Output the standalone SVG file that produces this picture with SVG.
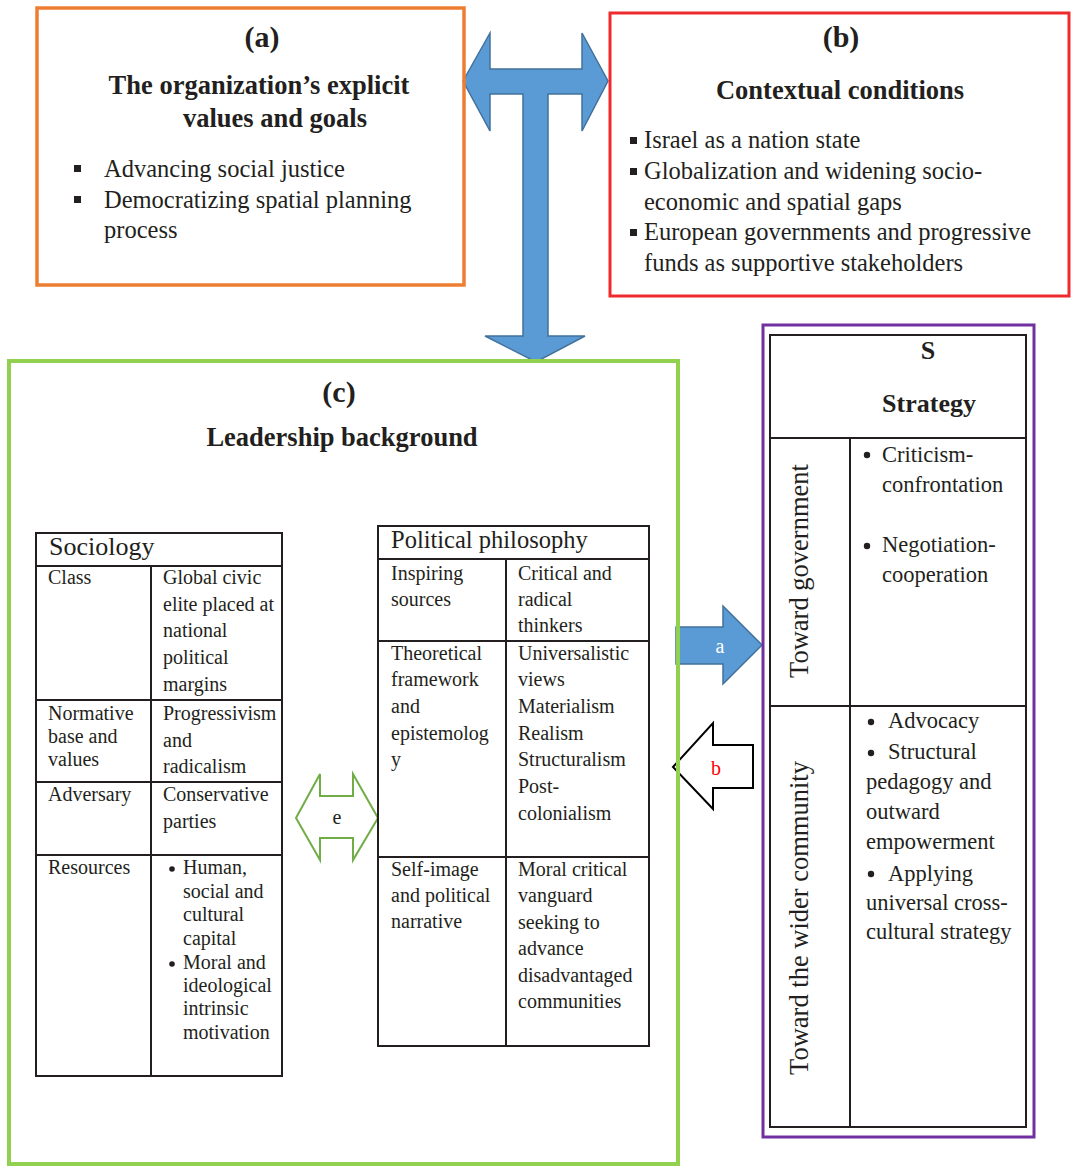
<svg xmlns="http://www.w3.org/2000/svg" width="1071" height="1168" viewBox="0 0 1071 1168">
<style>
text{font-family:"Liberation Serif","Times New Roman",serif;fill:#231f20}
.h{font-weight:bold;text-anchor:middle}
.t24{font-size:24.5px}
.t20{font-size:20px}
.t22{font-size:22.5px}
.grid{fill:none;stroke:#231f20;stroke-width:2}
.sq{fill:#231f20}
</style>
<rect width="1071" height="1168" fill="#ffffff"/>

<g id="connectors">
  <path d="M463,81 L490,33 L490,69 L582,69 L582,33 L608,81 L582,131 L582,94 L548,94 L548,336 L585,336 L536,362 L485,336 L523,336 L523,94 L490,94 L490,131 Z" fill="#5b9bd5" stroke="#41719c" stroke-width="1.5"/>
  <g id="arrow-a">
    <path d="M676,627 L723,627 L723,606 L762,645 L723,684 L723,664 L676,664 Z" fill="#5b9bd5" stroke="#41719c" stroke-width="1.5"/>
    <text x="720" y="653" font-size="20" text-anchor="middle" style="fill:#ffffff">a</text>
  </g>
  <g id="arrow-b">
    <path d="M673,767 L713,723 L713,745 L753,745 L753,788 L713,788 L713,809 Z" fill="#ffffff" stroke="#000000" stroke-width="2"/>
    <text x="716" y="775" font-size="20" text-anchor="middle" style="fill:#ff0000">b</text>
  </g>
  <g id="arrow-e">
    <path d="M296,818 L320,774 L320,796 L353,796 L353,774 L378,818 L353,860 L353,838 L320,838 L320,860 Z" fill="#ffffff" stroke="#70ad47" stroke-width="2"/>
    <text x="337" y="824" font-size="20" text-anchor="middle">e</text>
  </g>
</g>

<g id="node-a">
  <rect x="37" y="8" width="427" height="277" fill="none" stroke="#ed7d31" stroke-width="3.5"/>
  <text class="h" x="262" y="47" font-size="30">(a)</text>
  <text class="h" x="259" y="94" font-size="26.5">The organization’s explicit</text>
  <text class="h" x="275" y="127" font-size="26.5">values and goals</text>
  <rect class="sq" x="74" y="165" width="7" height="7"/>
  <rect class="sq" x="74" y="196" width="7" height="7"/>
  <text class="t24" x="104" y="177">Advancing social justice</text>
  <text class="t24" x="104" y="208">Democratizing spatial planning</text>
  <text class="t24" x="104" y="238">process</text>
</g>

<g id="node-b">
  <rect x="610" y="13" width="459" height="283" fill="none" stroke="#ee2a2e" stroke-width="3"/>
  <text class="h" x="841" y="47" font-size="30">(b)</text>
  <text class="h" x="840" y="99" font-size="26.5">Contextual conditions</text>
  <rect class="sq" x="630" y="137" width="7" height="7"/>
  <rect class="sq" x="630" y="168" width="7" height="7"/>
  <rect class="sq" x="630" y="229" width="7" height="7"/>
  <text class="t24" x="644" y="148">Israel as a nation state</text>
  <text class="t24" x="644" y="179">Globalization and widening socio-</text>
  <text class="t24" x="644" y="210">economic and spatial gaps</text>
  <text class="t24" x="644" y="240">European governments and progressive</text>
  <text class="t24" x="644" y="271">funds as supportive stakeholders</text>
</g>

<g id="node-c">
  <rect x="9" y="361" width="669" height="803" fill="none" stroke="#92d050" stroke-width="4"/>
  <text class="h" x="339" y="402" font-size="30">(c)</text>
  <text class="h" x="342" y="446" font-size="26.5">Leadership background</text>
</g>

<g id="node-sociology">
  <rect class="grid" x="36" y="533" width="246" height="543"/>
  <line class="grid" x1="36" y1="566" x2="282" y2="566"/>
  <line class="grid" x1="151" y1="566" x2="151" y2="1076"/>
  <line class="grid" x1="36" y1="700" x2="282" y2="700"/>
  <line class="grid" x1="36" y1="782" x2="282" y2="782"/>
  <line class="grid" x1="36" y1="855" x2="282" y2="855"/>
  <text x="49" y="555" font-size="26">Sociology</text>
  <text class="t20" x="48" y="584">Class</text>
  <text class="t20" x="163" y="584">Global civic</text>
  <text class="t20" x="163" y="611">elite placed at</text>
  <text class="t20" x="163" y="637">national</text>
  <text class="t20" x="163" y="664">political</text>
  <text class="t20" x="163" y="691">margins</text>
  <text class="t20" x="48" y="720">Normative</text>
  <text class="t20" x="48" y="743">base and</text>
  <text class="t20" x="48" y="766">values</text>
  <text class="t20" x="163" y="720">Progressivism</text>
  <text class="t20" x="163" y="747">and</text>
  <text class="t20" x="163" y="773">radicalism</text>
  <text class="t20" x="48" y="801">Adversary</text>
  <text class="t20" x="163" y="801">Conservative</text>
  <text class="t20" x="163" y="828">parties</text>
  <text class="t20" x="48" y="874">Resources</text>
  <circle cx="172" cy="869" r="2.8" fill="#231f20"/>
  <circle cx="172" cy="964" r="2.8" fill="#231f20"/>
  <text class="t20" x="183" y="874">Human,</text>
  <text class="t20" x="183" y="898">social and</text>
  <text class="t20" x="183" y="921">cultural</text>
  <text class="t20" x="183" y="945">capital</text>
  <text class="t20" x="183" y="969">Moral and</text>
  <text class="t20" x="183" y="992">ideological</text>
  <text class="t20" x="183" y="1015">intrinsic</text>
  <text class="t20" x="183" y="1039">motivation</text>
</g>

<g id="node-political-philosophy">
  <rect class="grid" x="378" y="526" width="271" height="520"/>
  <line class="grid" x1="378" y1="559" x2="649" y2="559"/>
  <line class="grid" x1="506" y1="559" x2="506" y2="1046"/>
  <line class="grid" x1="378" y1="641" x2="649" y2="641"/>
  <line class="grid" x1="378" y1="857" x2="649" y2="857"/>
  <text x="391" y="548" font-size="24.5">Political philosophy</text>
  <text class="t20" x="391" y="580">Inspiring</text>
  <text class="t20" x="391" y="606">sources</text>
  <text class="t20" x="518" y="580">Critical and</text>
  <text class="t20" x="518" y="606">radical</text>
  <text class="t20" x="518" y="632">thinkers</text>
  <text class="t20" x="391" y="660">Theoretical</text>
  <text class="t20" x="391" y="686">framework</text>
  <text class="t20" x="391" y="713">and</text>
  <text class="t20" x="391" y="740">epistemolog</text>
  <text class="t20" x="391" y="766">y</text>
  <text class="t20" x="518" y="660">Universalistic</text>
  <text class="t20" x="518" y="686">views</text>
  <text class="t20" x="518" y="713">Materialism</text>
  <text class="t20" x="518" y="740">Realism</text>
  <text class="t20" x="518" y="766">Structuralism</text>
  <text class="t20" x="518" y="793">Post-</text>
  <text class="t20" x="518" y="820">colonialism</text>
  <text class="t20" x="391" y="876">Self-image</text>
  <text class="t20" x="391" y="902">and political</text>
  <text class="t20" x="391" y="928">narrative</text>
  <text class="t20" x="518" y="876">Moral critical</text>
  <text class="t20" x="518" y="902">vanguard</text>
  <text class="t20" x="518" y="929">seeking to</text>
  <text class="t20" x="518" y="955">advance</text>
  <text class="t20" x="518" y="982">disadvantaged</text>
  <text class="t20" x="518" y="1008">communities</text>
</g>

<g id="node-strategy">
  <rect x="763" y="325" width="271" height="812" fill="none" stroke="#7030a0" stroke-width="3"/>
  <rect class="grid" x="770" y="335" width="256" height="792"/>
  <line class="grid" x1="770" y1="438" x2="1026" y2="438"/>
  <line class="grid" x1="850" y1="438" x2="850" y2="1127"/>
  <line class="grid" x1="770" y1="706" x2="1026" y2="706"/>
  <text class="h" x="928" y="359" font-size="26">S</text>
  <text class="h" x="929" y="412" font-size="26">Strategy</text>
  <text transform="translate(808,571) rotate(-90)" font-size="26.5" text-anchor="middle">Toward government</text>
  <text transform="translate(808,918) rotate(-90)" font-size="26.5" text-anchor="middle">Toward the wider community</text>
  <circle cx="867" cy="455" r="3.2" fill="#231f20"/>
  <circle cx="867" cy="546" r="3.2" fill="#231f20"/>
  <text class="t22" x="882" y="462">Criticism-</text>
  <text class="t22" x="882" y="492">confrontation</text>
  <text class="t22" x="882" y="552">Negotiation-</text>
  <text class="t22" x="882" y="582">cooperation</text>
  <circle cx="871" cy="722" r="3.2" fill="#231f20"/>
  <circle cx="871" cy="753" r="3.2" fill="#231f20"/>
  <circle cx="871" cy="874" r="3.2" fill="#231f20"/>
  <text class="t22" x="888" y="728">Advocacy</text>
  <text class="t22" x="888" y="759">Structural</text>
  <text class="t22" x="866" y="789">pedagogy and</text>
  <text class="t22" x="866" y="819">outward</text>
  <text class="t22" x="866" y="849">empowerment</text>
  <text class="t22" x="888" y="881">Applying</text>
  <text class="t22" x="866" y="910">universal cross-</text>
  <text class="t22" x="866" y="939">cultural strategy</text>
</g>
</svg>
